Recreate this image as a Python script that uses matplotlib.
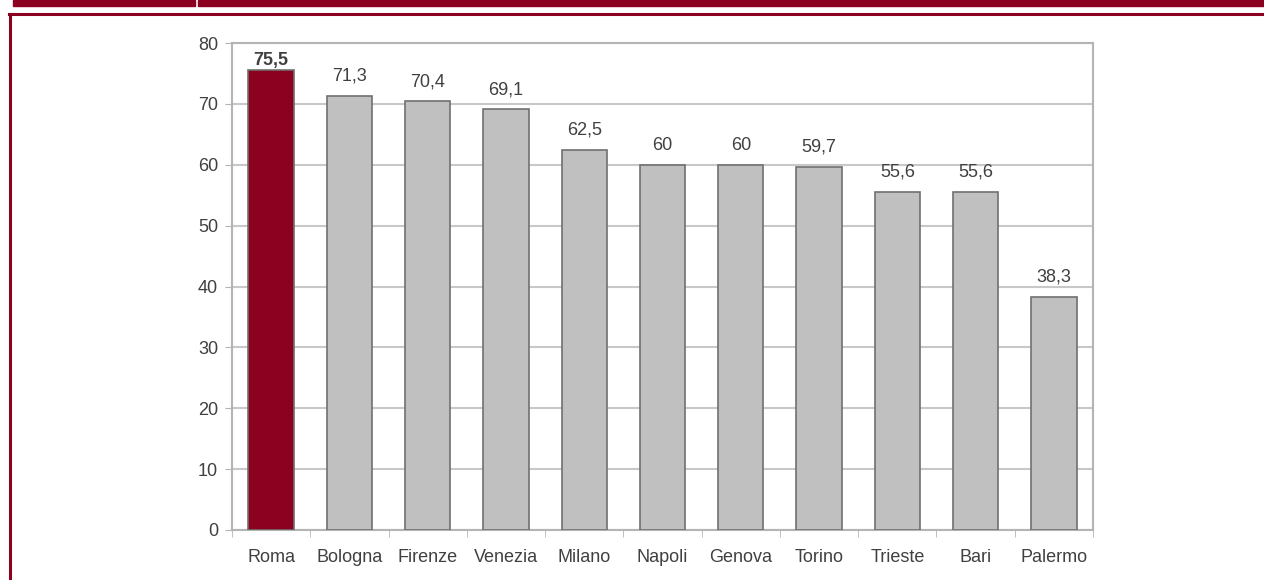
import matplotlib.pyplot as plt
from matplotlib.patches import Rectangle
from matplotlib.lines import Line2D

plt.rcParams["font.family"] = ["Liberation Sans", "DejaVu Sans"]

cities = ["Roma", "Bologna", "Firenze", "Venezia", "Milano", "Napoli",
          "Genova", "Torino", "Trieste", "Bari", "Palermo"]
values = [75.5, 71.3, 70.4, 69.1, 62.5, 60, 60, 59.7, 55.6, 55.6, 38.3]
value_labels = ["75,5", "71,3", "70,4", "69,1", "62,5", "60",
                "60", "59,7", "55,6", "55,6", "38,3"]
y_ticks = [0, 10, 20, 30, 40, 50, 60, 70, 80]

RED = "#8c0020"
GREY_BAR = "#c0c0c0"
TEXT = "#404040"
FRAME = "#b4b4b4"

W, H = 1264, 580
fig = plt.figure(figsize=(W / 100, H / 100), dpi=100)
fig.patch.set_facecolor("white")

# header band and page border
fig.patches.append(Rectangle((13 / W, 1 - 6 / H), (195 - 13) / W, 6 / H,
                             transform=fig.transFigure, color=RED, zorder=0))
fig.patches.append(Rectangle((198 / W, 1 - 6 / H), (W - 198) / W, 6 / H,
                             transform=fig.transFigure, color=RED, zorder=0))
fig.lines.append(Line2D([9 / W, 1], [1 - 13.5 / H, 1 - 13.5 / H],
                        transform=fig.transFigure, color=RED, lw=2.2))
fig.lines.append(Line2D([9.5 / W, 9.5 / W], [0, 1 - 13.5 / H],
                        transform=fig.transFigure, color=RED, lw=2.2))

left, right, top, bottom = 232, 1093, 43, 530
ax = fig.add_axes([left / W, 1 - bottom / H, (right - left) / W, (bottom - top) / H])

x = range(len(cities))
colors = [RED] + [GREY_BAR] * (len(cities) - 1)
bars = ax.bar(x, values, width=0.58, color=colors, edgecolor="#707070",
              linewidth=1.2, zorder=3)

for i, (b, lab) in enumerate(zip(bars, value_labels)):
    first = i == 0
    ax.annotate(lab, (b.get_x() + b.get_width() / 2, b.get_height()),
                xytext=(0, 1 if first else 8), textcoords="offset points",
                ha="center", va="bottom", fontsize=13, color=TEXT,
                fontweight="bold" if first else "normal")

ax.set_xlim(-0.5, len(cities) - 0.5)
ax.set_ylim(0, 80)
ax.set_yticks(y_ticks)
ax.set_xticks(list(x))
ax.set_xticklabels(cities)
ax.set_xticks([i + 0.5 for i in range(-1, len(cities))], minor=True)
ax.tick_params(axis="x", which="major", length=0, pad=14, labelsize=13, labelcolor=TEXT)
ax.tick_params(axis="x", which="minor", length=5, color=FRAME, direction="out")
ax.tick_params(axis="y", length=5, color=FRAME, pad=5, labelsize=13, labelcolor=TEXT)

ax.grid(True, axis="y", color="#c8c8c8", linewidth=1.5, zorder=0)
ax.set_axisbelow(True)
for s in ax.spines.values():
    s.set_color(FRAME)
    s.set_linewidth(1.5)

fig.savefig("out.png", dpi=100)
